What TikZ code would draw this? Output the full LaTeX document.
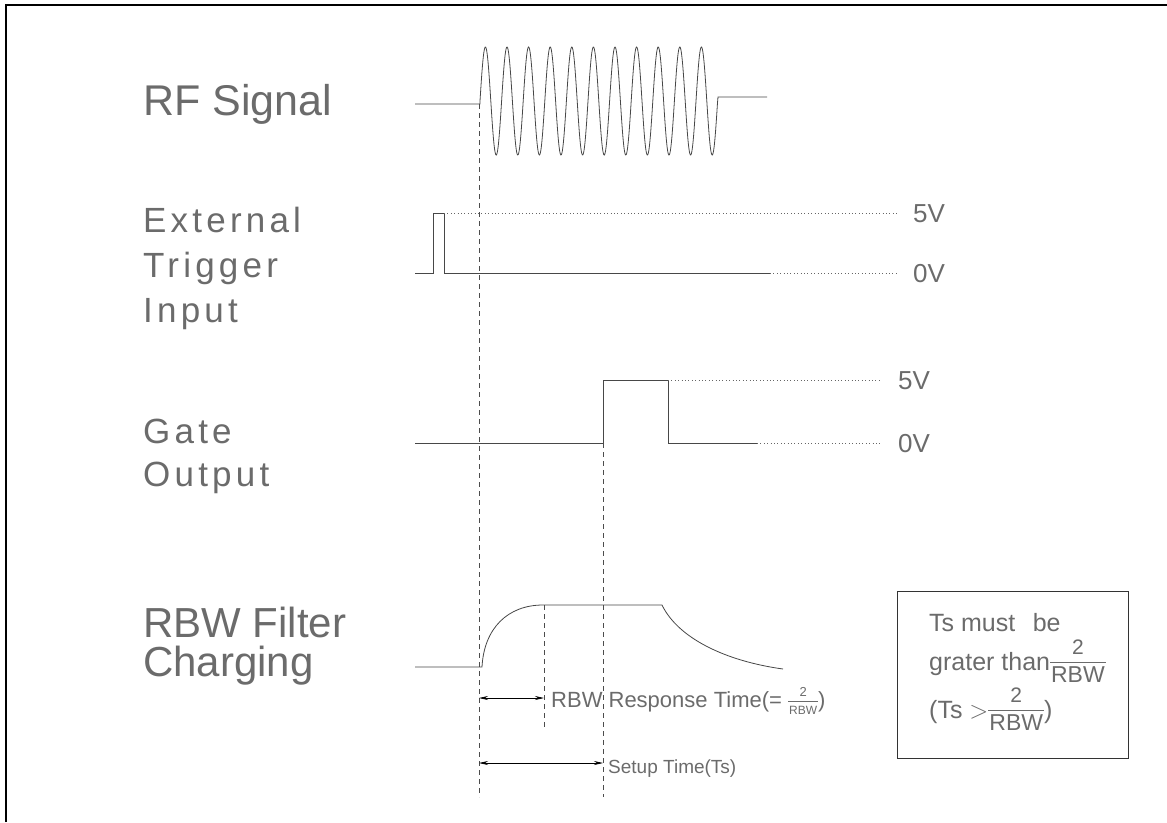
\documentclass[tikz,border=0pt]{standalone}
\usepackage{fontspec}
\setmainfont{Liberation Sans}
\newfontfamily\spacedfont[LetterSpace=12]{Liberation Sans}
\usetikzlibrary{arrows.meta}
\newcommand\fsz[1]{\fontsize{#1}{#1}\selectfont}
\newcommand\myfr[4]{{\renewcommand\arraystretch{#3}\setlength\arrayrulewidth{0.6pt}\setlength\tabcolsep{1pt}%
  \begin{tabular}[c]{c}\fsz{#1}2\\\hline\noalign{\vskip#4}\fsz{#2}RBW\end{tabular}}}
\begin{document}
\begin{tikzpicture}[x=1pt,y=-1pt,
  sig/.style={draw=black!72,line width=0.8pt},
  guide/.style={draw=black!70,line width=0.7pt,dash pattern=on 5pt off 4pt},
  dots/.style={draw=black!60,line width=0.7pt,dash pattern=on 0.8pt off 2.6pt},
  lbl/.style={anchor=base west,inner sep=0pt,text=black!58},
  dim/.style={draw=black,line width=0.7pt,{Stealth[length=9pt,width=4pt]}-{Stealth[length=9pt,width=4pt]}},
]
\useasboundingbox (0,0) rectangle (1167,822);
% frame
\coordinate (frBL) at (6,822);
\coordinate (frTL) at (6,5);
\coordinate (frTR) at (1167,5);
\draw[line width=2.2pt] (frBL) -- (frTL) -- (frTR);

% ---------- left labels
\node[lbl,font=\fsz{43}] (lRF) at (143,115) {RF Signal};
\node[lbl,font=\spacedfont\fsz{35}] (lExt) at (143,232) {External};
\node[lbl,font=\spacedfont\fsz{35}] (lTrg) at (143,277) {Trigger};
\node[lbl,font=\spacedfont\fsz{35}] (lInp) at (143,322) {Input};
\node[lbl,font=\spacedfont\fsz{35}] (lGate) at (143,443) {Gate};
\node[lbl,font=\spacedfont\fsz{35}] (lOut) at (143,486) {Output};
\node[lbl,font=\fsz{42}] (lRBW) at (143,637) {RBW Filter};
\node[lbl,font=\fsz{42}] (lChg) at (143,676) {Charging};

% ---------- RF signal
\coordinate (rfL) at (415,104);
\coordinate (rfA) at (480,104);
\coordinate (rfB) at (718,97);
\coordinate (rfR) at (767,97);
\draw[sig] (rfL) -- (rfA) -- plot[domain=480:717.5,samples=500] (\x,{101-54*sin((\x-480)/21.6*360)}) -- (rfB) -- (rfR);

% ---------- external trigger
\coordinate (trL) at (415,273);
\coordinate (tr1) at (433,273);
\coordinate (tr2) at (433,213);
\coordinate (tr3) at (444,213);
\coordinate (tr4) at (444,273);
\coordinate (trR) at (770,273);
\coordinate (trD5) at (897,213);
\coordinate (trD0) at (897,273);
\draw[sig] (trL) -- (tr1) -- (tr2) -- (tr3) -- (tr4) -- (trR);
\draw[dots] (tr3) -- (trD5);
\draw[dots] (trR) -- (trD0);
\node[lbl,font=\fsz{26}] (t5V) at (913,222) {5V};
\node[lbl,font=\fsz{26}] (t0V) at (913,282) {0V};

% ---------- gate output
\coordinate (gL) at (415,443);
\coordinate (g1) at (603,443);
\coordinate (g2) at (603,380);
\coordinate (g3) at (668,380);
\coordinate (g4) at (668,443);
\coordinate (gR) at (757,443);
\coordinate (gD5) at (882,380);
\coordinate (gD0) at (882,443);
\draw[sig] (gL) -- (g1) -- (g2) -- (g3) -- (g4) -- (gR);
\draw[dots] (g3) -- (gD5);
\draw[dots] (gR) -- (gD0);
\node[lbl,font=\fsz{26}] (g5V) at (898,389) {5V};
\node[lbl,font=\fsz{26}] (g0V) at (898,452) {0V};

% ---------- RBW filter charging
\coordinate (cL) at (415,667);
\coordinate (c1) at (482,667);
\coordinate (c2) at (543,605);
\coordinate (c3) at (662,605);
\coordinate (cR) at (783,669);
\draw[sig] (cL) -- (c1) .. controls (484,628) and (508,605) .. (c2) -- (c3)
  .. controls (678,638) and (725,661) .. (cR);

% ---------- guides
\coordinate (v1t) at (479,104);
\coordinate (v1b) at (479,797);
\coordinate (v2t) at (544,605);
\coordinate (v2b) at (544,730);
\coordinate (v3t) at (603,443);
\coordinate (v3b) at (603,797);
\draw[guide] (v1t) -- (v1b);
\draw[guide] (v2t) -- (v2b);
\draw[guide] (v3t) -- (v3b);

% ---------- dimension arrows
\coordinate (a1L) at (479,698);
\coordinate (a1R) at (544,698);
\coordinate (a2L) at (479,763);
\coordinate (a2R) at (603,763);
\draw[dim] (a1L) -- (a1R);
\draw[dim] (a2L) -- (a2R);
\node[lbl,font=\fsz{22}] (resp) at (551,707) {RBW Response Time(= \myfr{13}{12}{0.75}{1pt})};
\node[lbl,font=\fsz{19}] (setup) at (608,773) {Setup Time(Ts)};

% ---------- note box
\node[draw=black!80,line width=0.8pt,minimum width=231pt,minimum height=167pt,inner sep=0pt,anchor=north west] (note) at (897,591) {};
\node[lbl,font=\fsz{25}] (n1) at (929,631) {Ts must\hspace{0.7em}be};
\node[lbl,font=\fsz{25}] (n2) at (929,670) {grater than\myfr{21}{23}{1}{2pt}};
\node[lbl,font=\fsz{25}] (n3) at (929,718) {(Ts $>$\myfr{21}{23}{1}{2pt})};
\end{tikzpicture}
\end{document}
